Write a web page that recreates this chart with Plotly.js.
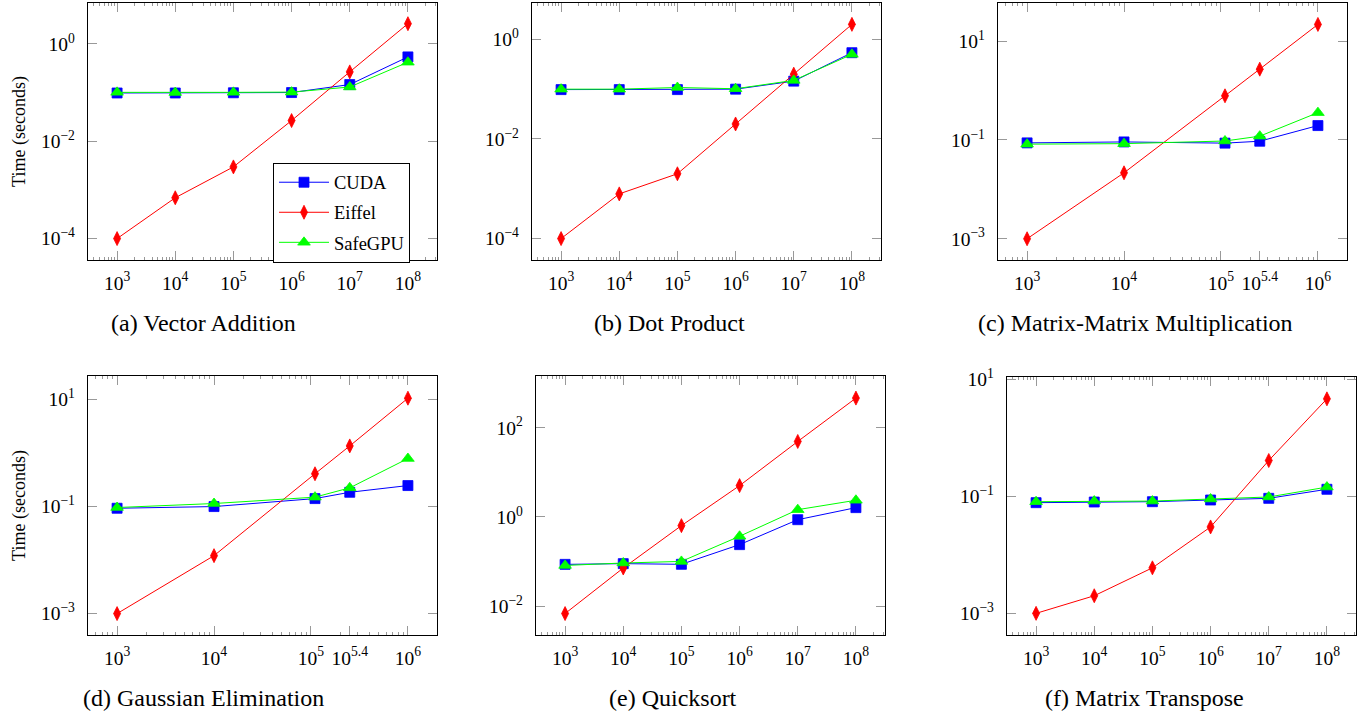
<!DOCTYPE html>
<html>
<head>
<meta charset="utf-8">
<script src="https://cdn.plot.ly/plotly-3.0.1.min.js"></script>
<style>
  html, body { margin: 0; padding: 0; background: #fff; }
  #chart { width: 1366px; height: 712px; }
</style>
</head>
<body>
<div id="chart"></div>
<script>
// ---------- data ----------
const seriesNames = ["CUDA", "Eiffel", "SafeGPU"];
const captions = ["(a) Vector Addition", "(b) Dot Product", "(c) Matrix-Matrix Multiplication",
                  "(d) Gaussian Elimination", "(e) Quicksort", "(f) Matrix Transpose"];

const sizesVector = [1e3, 1e4, 1e5, 1e6, 1e7, 1e8];
const sizesMatrix = [1e3, 1e4, 1.1e5, 251189, 1e6];

// (a) Vector Addition
const vecAddCUDA    = [0.098, 0.098, 0.099, 0.100, 0.146, 0.54];
const vecAddEiffel  = [1.0e-4, 6.9e-4, 2.97e-3, 0.0266, 0.266, 2.6];
const vecAddSafeGPU = [0.101, 0.100, 0.101, 0.102, 0.130, 0.42];
// (b) Dot Product
const dotCUDA    = [0.098, 0.098, 0.098, 0.100, 0.145, 0.54];
const dotEiffel  = [1.0e-4, 7.9e-4, 2.0e-3, 0.020, 0.20, 2.0];
const dotSafeGPU = [0.100, 0.100, 0.108, 0.102, 0.150, 0.50];
// (c) Matrix-Matrix Multiplication
const mmCUDA    = [0.087, 0.091, 0.086, 0.094, 0.195];
const mmEiffel  = [1.0e-3, 0.0216, 0.78, 2.7, 21.7];
const mmSafeGPU = [0.082, 0.084, 0.095, 0.119, 0.356];
// (d) Gaussian Elimination
const geCUDA    = [0.093, 0.100, 0.141, 0.185, 0.247];
const geEiffel  = [1.0e-3, 0.0121, 0.41, 1.36, 10.6];
const geSafeGPU = [0.096, 0.114, 0.150, 0.224, 0.79];
// (e) Quicksort
const qsCUDA    = [0.0867, 0.090, 0.087, 0.24, 0.87, 1.62];
const qsEiffel  = [0.00685, 0.0718, 0.64, 5.05, 49.3, 462];
const qsSafeGPU = [0.082, 0.093, 0.101, 0.37, 1.46, 2.37];
// (f) Matrix Transpose
const mtCUDA    = [0.078, 0.080, 0.081, 0.0866, 0.0925, 0.132];
const mtEiffel  = [1.0e-3, 0.0020, 0.0060, 0.030, 0.41, 4.64];
const mtSafeGPU = [0.081, 0.083, 0.083, 0.090, 0.0975, 0.144];

// tick labels
const xTickVals6 = [1e3, 1e4, 1e5, 1e6, 1e7, 1e8];
const xTickText6 = ["10<sup>3</sup>", "10<sup>4</sup>", "10<sup>5</sup>", "10<sup>6</sup>", "10<sup>7</sup>", "10<sup>8</sup>"];
const xTickValsM = [1e3, 1e4, 1e5, 251189, 1e6];
const xTickTextM = ["10<sup>3</sup>", "10<sup>4</sup>", "10<sup>5</sup>", "10<sup>5.4</sup>", "10<sup>6</sup>"];
const yTickValsA = [1e-4, 1e-2, 1e0];
const yTickTextA = ["10<sup>−4</sup>", "10<sup>−2</sup>", "10<sup>0</sup>"];
const yTickValsC = [1e-3, 1e-1, 1e1];
const yTickTextC = ["10<sup>−3</sup>", "10<sup>−1</sup>", "10<sup>1</sup>"];
const yTickValsE = [1e-2, 1e0, 1e2];
const yTickTextE = ["10<sup>−2</sup>", "10<sup>0</sup>", "10<sup>2</sup>"];

// ---------- styles ----------
const FONT = "'Liberation Serif', 'Times New Roman', serif";
const colors = {CUDA: "#0000ff", Eiffel: "#ff0000", SafeGPU: "#00ff00"};
const markers = {
  CUDA:    {symbol: "square", size: 10},
  Eiffel:  {symbol: "diamond-tall", size: 10},
  SafeGPU: {symbol: "triangle-up", size: 11}
};

const panels = [
  {x: sizesVector, s: [vecAddCUDA, vecAddEiffel, vecAddSafeGPU], xt: [xTickVals6, xTickText6], yt: [yTickValsA, yTickTextA],
   dx: [88, 437], dy: [3, 260], xr: [2.5, 8.5], yr: [-4.44, 0.84], cap: [203, 323], ytitle: true},
  {x: sizesVector, s: [dotCUDA, dotEiffel, dotSafeGPU], xt: [xTickVals6, xTickText6], yt: [yTickValsA, yTickTextA],
   dx: [532, 881], dy: [3, 260], xr: [2.5, 8.5], yr: [-4.43, 0.73], cap: [669, 323]},
  {x: sizesMatrix, s: [mmCUDA, mmEiffel, mmSafeGPU], xt: [xTickValsM, xTickTextM], yt: [yTickValsC, yTickTextC],
   dx: [998, 1347], dy: [3, 260], xr: [2.7, 6.3], yr: [-3.43, 1.77], cap: [1135, 323]},
  {x: sizesMatrix, s: [geCUDA, geEiffel, geSafeGPU], xt: [xTickValsM, xTickTextM], yt: [yTickValsC, yTickTextC],
   dx: [88, 437], dy: [376, 635], xr: [2.7, 6.3], yr: [-3.40, 1.44], cap: [203, 698], ytitle: true},
  {x: sizesVector, s: [qsCUDA, qsEiffel, qsSafeGPU], xt: [xTickVals6, xTickText6], yt: [yTickValsE, yTickTextE],
   dx: [536, 885], dy: [376, 635], xr: [2.5, 8.5], yr: [-2.645, 3.16], cap: [673, 698]},
  {x: sizesVector, s: [mtCUDA, mtEiffel, mtSafeGPU], xt: [xTickVals6, xTickText6], yt: [yTickValsC, yTickTextC],
   dx: [1007, 1356], dy: [377, 635], xr: [2.5, 8.5], yr: [-3.37, 1.04], cap: [1144, 698]}
];

const W = 1366, H = 712;
const minorVals = [];
for (let k = 2; k <= 8; k++) for (let m = 2; m <= 9; m++) minorVals.push(m * Math.pow(10, k));

const traces = [];
const layout = {
  width: W, height: H,
  margin: {l: 0, r: 0, t: 0, b: 0},
  paper_bgcolor: "#fff", plot_bgcolor: "#fff",
  font: {family: FONT, color: "#000", size: 19},
  showlegend: true,
  legend: {
    x: 273 / W, y: 1 - 162.7 / H, xanchor: "left", yanchor: "top",
    bordercolor: "#000", borderwidth: 1, bgcolor: "#fff",
    font: {family: FONT, size: 18.5, color: "#000"},
    tracegroupgap: 3, traceorder: "grouped", itemwidth: 50
  },
  annotations: []
};

panels.forEach((p, i) => {
  const n = i === 0 ? "" : String(i + 1);
  p.s.forEach((vals, j) => {
    const name = seriesNames[j];
    traces.push({
      type: "scatter", mode: "lines+markers",
      x: p.x, y: vals, name: name,
      xaxis: "x" + n, yaxis: "y" + n,
      legendgroup: name, showlegend: i === 0,
      line: {color: colors[name], width: 1},
      marker: {symbol: markers[name].symbol, size: markers[name].size, color: colors[name],
               line: {width: 0.8, color: colors[name]}}
    });
  });
  const axCommon = {
    showline: true, linecolor: "#000", linewidth: 1.2, mirror: "ticks",
    ticks: "inside", ticklen: 9, tickwidth: 1, tickcolor: "#999",
    showgrid: false, zeroline: false, tickmode: "array",
    tickfont: {family: FONT, size: 19.5, color: "#000"}
  };
  layout["xaxis" + n] = Object.assign({}, axCommon, {
    type: "log", range: p.xr, anchor: "y" + n,
    domain: [p.dx[0] / W, p.dx[1] / W],
    tickvals: p.xt[0], ticktext: p.xt[1], ticklabelstandoff: 5,
    minor: {tickmode: "array", tickvals: minorVals, ticks: "inside", ticklen: 3, tickwidth: 1, tickcolor: "#999", showgrid: false}
  });
  layout["yaxis" + n] = Object.assign({}, axCommon, {
    type: "log", range: p.yr, anchor: "x" + n,
    domain: [1 - p.dy[1] / H, 1 - p.dy[0] / H],
    tickvals: p.yt[0], ticktext: p.yt[1], ticklabelstandoff: 8
  });
  if (p.ytitle) {
    layout["yaxis" + n].title = {text: "Time (seconds)", font: {family: FONT, size: 18, color: "#000"}, standoff: 10};
  }
  layout.annotations.push({
    text: captions[i], xref: "paper", yref: "paper",
    x: p.cap[0] / W, y: 1 - p.cap[1] / H, xanchor: "center", yanchor: "middle",
    showarrow: false, font: {family: FONT, size: 24, color: "#000"}
  });
});

Plotly.newPlot("chart", traces, layout, {displayModeBar: false, staticPlot: true});
</script>
</body>
</html>
